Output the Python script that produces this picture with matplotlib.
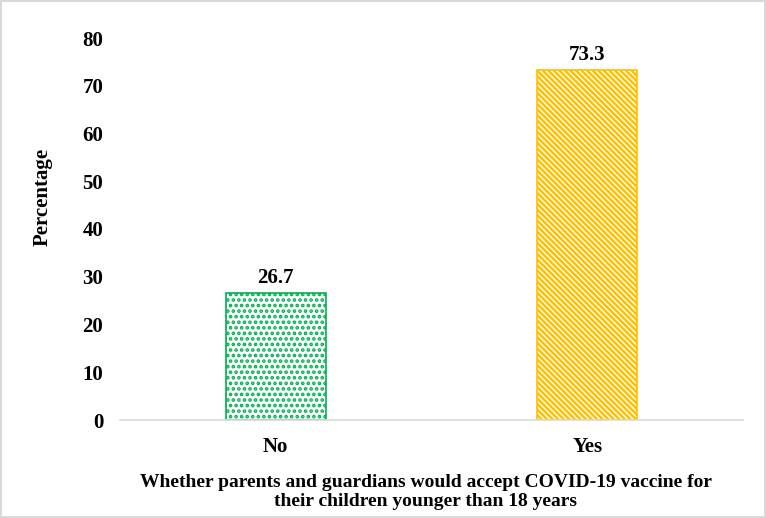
import matplotlib.pyplot as plt
import numpy as np

plt.rcParams['font.family'] = 'Liberation Serif'
plt.rcParams['font.weight'] = 'bold'
plt.rcParams['hatch.linewidth'] = 1.8

categories = ['No', 'Yes']
values = [26.7, 73.3]
colors = ['#00B050', '#FFC000']
hatches = ['...', '\\' * 6]

fig = plt.figure(figsize=(7.66, 5.18), dpi=100)
fig.patch.set_edgecolor('#D9D9D9')
fig.patch.set_linewidth(1.5)
ax = fig.add_axes([120/766, 1-420/518, 623/766, (420-38)/518])

x = np.arange(len(categories))
for xi, v, c, h in zip(x, values, colors, hatches):
    ax.bar(xi, v, width=0.32, facecolor='white', edgecolor=c, hatch=h, linewidth=1.2)
    ax.text(xi, v + 1.0, f'{v}', ha='center', va='bottom', fontsize=15, fontweight='bold')

ax.set_xlim(-0.5, 1.5)
ax.set_ylim(0, 80)
ax.set_yticks(np.arange(0, 81, 10))
ax.set_xticks(x)
ax.set_xticklabels(categories)
ax.tick_params(axis='both', length=0, labelsize=15)
ax.tick_params(axis='y', pad=12)
ax.tick_params(axis='x', pad=12)
for s in ['top', 'right', 'left']:
    ax.spines[s].set_visible(False)
ax.spines['bottom'].set_color('#D9D9D9')
ax.spines['bottom'].set_linewidth(1.2)

ax.set_ylabel('Percentage', fontsize=15, fontweight='bold')
ax.yaxis.set_label_coords(-0.108, 0.584)
ax.set_xlabel('Whether parents and guardians would accept COVID-19 vaccine for\ntheir children younger than 18 years',
              fontsize=14, fontweight='bold', linespacing=1.2)
ax.xaxis.set_label_coords(0.491, -0.141)

fig.savefig('out.png', dpi=100)
